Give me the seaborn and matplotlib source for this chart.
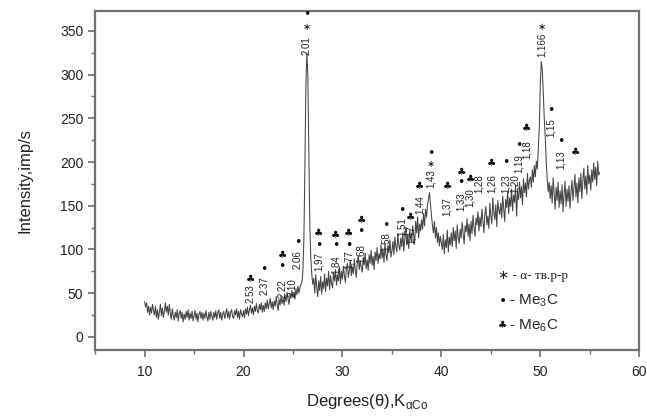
import numpy as np
import pandas as pd
import matplotlib
matplotlib.use("Agg")
import matplotlib.pyplot as plt
from matplotlib.ticker import MultipleLocator
import seaborn as sns

# diffraction angle grid, 0.1 degree step from 10 to 56
two_theta = np.round(np.arange(100, 561) / 10.0, 1)

# intensity, one row per degree
intensity = [
    40, 34, 39, 28, 35, 25, 34, 27, 37, 30,
    25, 35, 22, 31, 20, 29, 37, 24, 33, 22,
    29, 39, 28, 35, 25, 37, 27, 20, 32, 24,
    19, 28, 22, 31, 18, 27, 30, 21, 28, 17,
    26, 20, 29, 22, 31, 19, 27, 21, 29, 18,
    24, 30, 20, 27, 17, 26, 29, 21, 28, 19,
    27, 21, 30, 23, 18, 28, 20, 29, 24, 19,
    28, 22, 30, 20, 27, 31, 21, 28, 19, 26,
    29, 21, 27, 32, 22, 29, 20, 28, 31, 23,
    21, 30, 25, 32, 22, 29, 20, 31, 26, 23,
    30, 22, 32, 26, 34, 24, 31, 36, 27, 33,
    25, 35, 29, 38, 30, 27, 37, 31, 39, 28,
    36, 29, 39, 32, 42, 32, 38, 44, 33, 40,
    31, 41, 35, 46, 37, 30, 43, 36, 47, 38,
    44, 36, 48, 40, 51, 43, 37, 49, 44, 53,
    45, 51, 43, 55, 48, 58, 50, 56, 60, 62,
    75, 110, 190, 285, 325, 300, 210, 130, 90, 72,
    60, 67, 50, 71, 57, 46, 64, 53, 69, 49,
    63, 55, 72, 52, 67, 58, 75, 54, 70, 61,
    56, 73, 64, 77, 59, 71, 64, 80, 61, 75,
    66, 81, 70, 62, 78, 84, 68, 76, 87, 70,
    80, 72, 89, 76, 68, 85, 93, 77, 87, 79,
    74, 91, 82, 96, 78, 88, 76, 94, 84, 99,
    82, 92, 77, 97, 87, 102, 84, 95, 89, 105,
    90, 100, 85, 107, 94, 87, 104, 96, 111, 91,
    98, 109, 94, 114, 103, 97, 118, 105, 99, 113,
    103, 119, 98, 111, 125, 105, 116, 101, 122, 112,
    108, 127, 116, 106, 132, 119, 137, 113, 129, 121,
    134, 123, 141, 127, 146, 137, 151, 158, 165, 151,
    139, 127, 119, 132, 113, 125, 108, 119, 104, 115,
    107, 100, 117, 95, 111, 102, 122, 97, 114, 105,
    119, 103, 125, 110, 121, 101, 128, 114, 107, 123,
    113, 131, 118, 106, 127, 120, 135, 115, 129, 110,
    132, 118, 139, 125, 115, 136, 128, 143, 121, 137,
    126, 146, 132, 119, 141, 149, 128, 138, 124, 153,
    138, 129, 159, 142, 134, 151, 126, 156, 145, 140,
    153, 136, 161, 146, 132, 157, 148, 166, 141, 159,
    149, 169, 144, 162, 154, 173, 138, 165, 157, 177,
    159, 172, 151, 181, 165, 176, 160, 187, 169, 179,
    183, 171, 191, 177, 196, 183, 201, 192, 215, 240,
    290, 315, 305, 280, 250, 228, 200, 180, 166, 177,
    158, 173, 153, 182, 163, 146, 171, 156, 177, 148,
    167, 152, 174, 143, 163, 178, 149, 169, 155, 173,
    147, 166, 179, 156, 171, 186, 160, 176, 153, 182,
    166, 187, 158, 179, 193, 169, 184, 163, 196, 175,
    185, 168, 191, 177, 199, 180, 194, 173, 201, 185,
    188,
]

# peak annotations: position, d-spacing label, label start height
peak_pos = [20.7, 22.1, 23.9, 25.0, 25.5, 26.4, 27.6, 29.3, 30.6, 31.9,
            34.4, 36.0, 36.9, 37.8, 38.9, 40.6, 42.0, 42.9, 43.8, 45.1,
            46.5, 47.4, 47.8, 48.6, 50.2, 51.1, 52.1, 53.6]
peak_label = ["2.53", "2.37", "2.22", "2.10", "2.06", "2.01", "1,97", "1,84",
              "1,77", "1,68", "1,58", "1,51", "1,47", "1,44", "1,43", "1,37",
              "1,33", "1,30", "1,28", "1,26", "1,23", "1,20", "1,19", "1,18",
              "1,166", "1,15", "1,13", ""]
label_y = [39, 48, 44, 46, 78, 323, 75, 72, 77, 84,
           98, 115, 106, 141, 170, 138, 144, 148, 165, 164,
           164, 164, 187, 204, 320, 229, 192, 0]
# phase symbols above each peak: (symbol, height)
phase_marks = [
    [("♣", 66)], [("•", 77)], [("•", 80), ("♣", 93)], [], [("•", 108)],
    [("∗", 354), ("•", 369)], [("•", 104), ("♣", 119)], [("•", 104), ("♣", 117)],
    [("•", 105), ("♣", 119)], [("•", 121), ("♣", 134)], [("•", 127)],
    [("•", 144)], [("♣", 137)], [("♣", 172)], [("∗", 198), ("•", 210)],
    [("♣", 173)], [("•", 176), ("♣", 189)], [("♣", 181)], [], [("♣", 199)],
    [("•", 200)], [], [("•", 219)], [("♣", 239)], [("∗", 355)],
    [("•", 259)], [("•", 223)], [("♣", 211)],
]

df = pd.DataFrame({"angle": two_theta, "intensity": intensity})

sns.set_style("ticks")
plt.rcParams["font.family"] = ["Liberation Sans", "DejaVu Sans"]

fig, ax = plt.subplots(figsize=(6.47, 4.17), dpi=100)
fig.subplots_adjust(left=0.147, right=0.988, bottom=0.161, top=0.974)

sns.lineplot(data=df, x="angle", y="intensity", ax=ax, color="#454545",
             linewidth=0.75)

mark_size = {"•": 9, "♣": 7.5, "∗": 7}
for x, lab, ly, marks in zip(peak_pos, peak_label, label_y, phase_marks):
    if lab:
        ax.text(x, ly, lab, rotation=90, ha="center", va="bottom",
                fontsize=7, color="#222222",
                family=["Liberation Sans Narrow", "Liberation Sans"])
    for sym, my in marks:
        ax.text(x, my, sym, ha="center", va="center", fontsize=mark_size[sym],
                color="#111111", family=["DejaVu Sans"])

# phase legend drawn as text
ax.text(45.7, 69, "∗ - α- тв.р-р", ha="left", va="center", fontsize=9.5,
        family=["Liberation Serif", "DejaVu Sans"], color="#222222")
ax.text(46.2, 41, "•", ha="center", va="center", fontsize=10,
        family=["DejaVu Sans"], color="#111111")
ax.text(46.8, 41, r"- Me$_{\mathregular{3}}$C", ha="left", va="center",
        fontsize=11, color="#222222")
ax.text(46.2, 13, "♣", ha="center", va="center", fontsize=7.5,
        family=["DejaVu Sans"], color="#111111")
ax.text(46.8, 13, r"- Me$_{\mathregular{6}}$C", ha="left", va="center",
        fontsize=11, color="#222222")

ax.set_xlim(5, 60)
ax.set_ylim(-15, 373)
ax.xaxis.set_major_locator(MultipleLocator(10))
ax.xaxis.set_minor_locator(MultipleLocator(5))
ax.yaxis.set_major_locator(MultipleLocator(50))
ax.yaxis.set_minor_locator(MultipleLocator(25))
ax.set_xticks([10, 20, 30, 40, 50, 60])
ax.set_yticks([0, 50, 100, 150, 200, 250, 300, 350])

for sp in ax.spines.values():
    sp.set_color("#707070")
    sp.set_linewidth(1.6)
ax.tick_params(which="major", direction="out", length=5, width=1.2,
               color="#707070", labelsize=10, labelcolor="#222222")
ax.tick_params(axis="x", which="major", pad=6)
ax.tick_params(which="minor", direction="out", length=3, width=1.0,
               color="#707070")

ax.set_xlabel(r"Degrees($\mathregular{\theta}$),K$_{\mathregular{\alpha Co}}$",
              fontsize=12, color="#222222", labelpad=9)
ax.set_ylabel("Intensity,imp/s", fontsize=12, color="#222222", labelpad=20)

fig.savefig("out.png", dpi=100)
